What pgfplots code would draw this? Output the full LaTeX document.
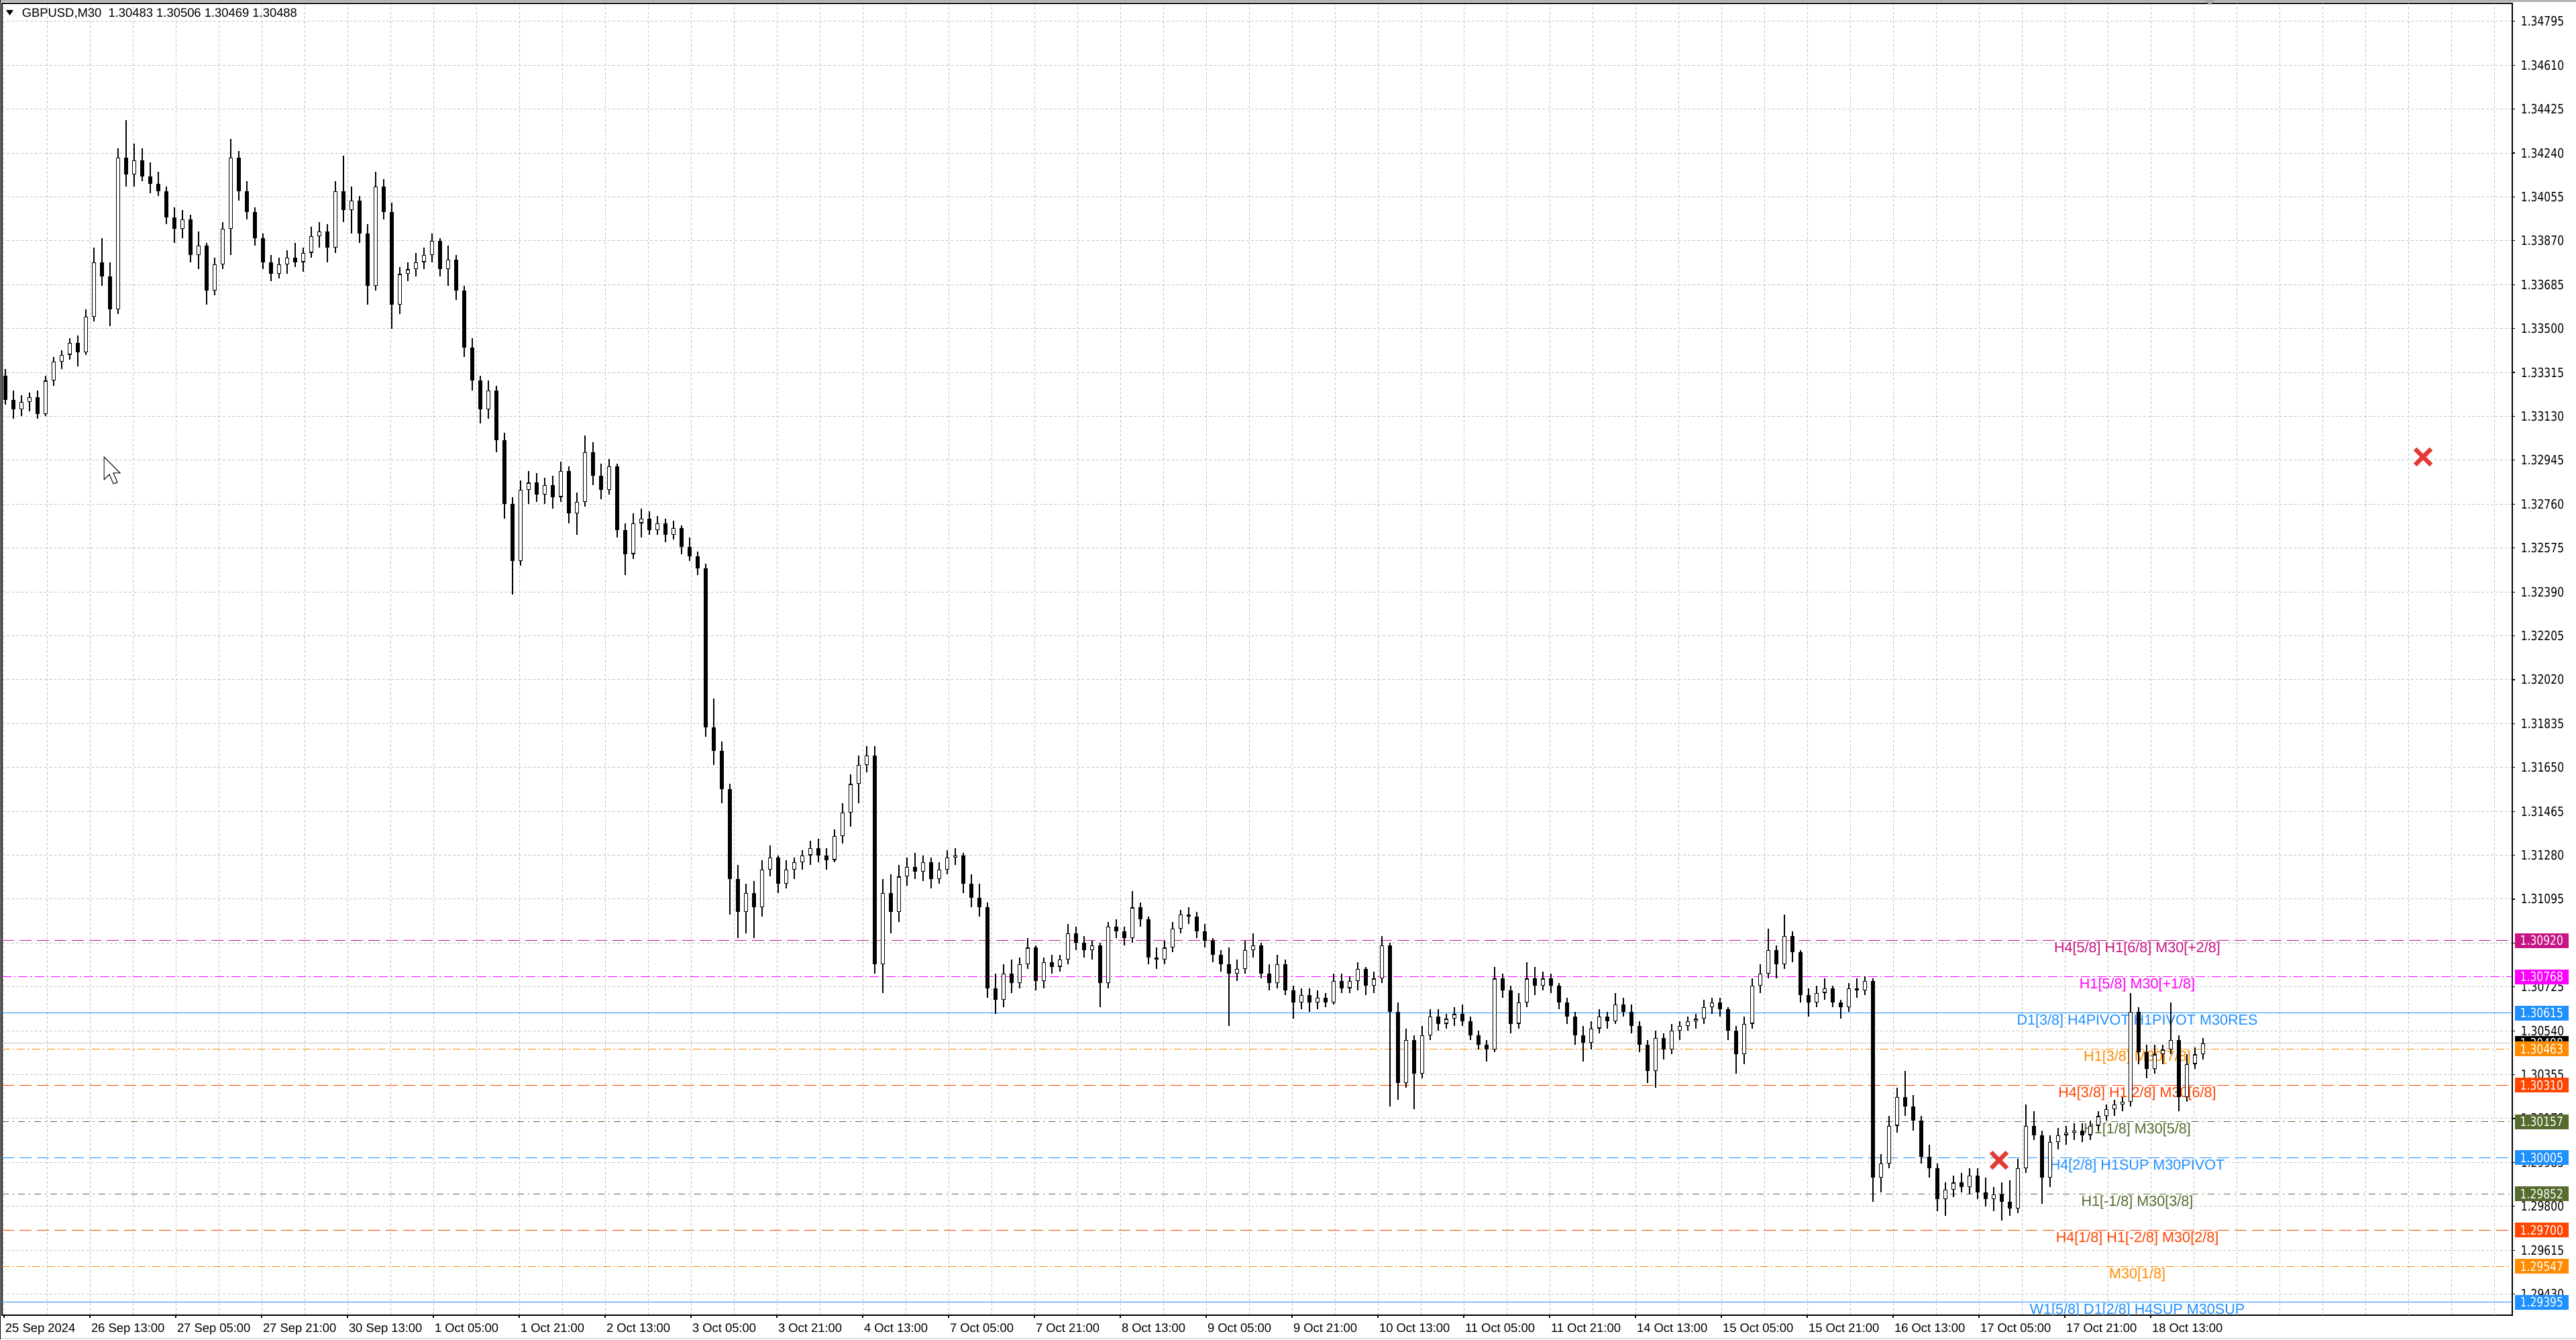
\documentclass[border=0pt]{standalone}
\usepackage{fontspec}
\setmainfont{Liberation Sans}
\newfontfamily\pricefont[FakeStretch=0.81]{DejaVu Sans}
\usepackage{pgfplots}
\usepackage{pgfplotstable}
\pgfplotsset{compat=1.18}

\definecolor{lvlviolet}{HTML}{C71585}
\definecolor{lvlmagenta}{HTML}{FF00FF}
\definecolor{lvlblue}{HTML}{1E90FF}
\definecolor{lvlorange}{HTML}{FF8C00}
\definecolor{lvlred}{HTML}{FF4500}
\definecolor{lvlolive}{HTML}{556B2F}
\definecolor{gridgray}{HTML}{C4C4C4}
\definecolor{xred}{HTML}{E53935}

% GBPUSD M30 candles (x = pixel column, o h l c)
\pgfplotstableread{
x o h l c
8 1.3330 1.3333 1.3318 1.3320
20 1.3320 1.3324 1.3312 1.3316
32 1.3316 1.3322 1.3313 1.3319
44 1.3319 1.3323 1.3315 1.3321
56 1.3321 1.3324 1.3312 1.3314
68 1.3314 1.3330 1.3313 1.3328
80 1.3328 1.3338 1.3326 1.3336
92 1.3336 1.3341 1.3333 1.3339
104 1.3339 1.3346 1.3337 1.3344
116 1.3344 1.3347 1.3334 1.3340
128 1.3340 1.3358 1.3339 1.3355
140 1.3355 1.3384 1.3353 1.3378
152 1.3378 1.3388 1.3368 1.3372
164 1.3372 1.3378 1.3351 1.3358
176 1.3358 1.3426 1.3356 1.3422
188 1.3422 1.3438 1.3410 1.3415
200 1.3415 1.3428 1.3410 1.3421
212 1.3421 1.3426 1.3412 1.3414
224 1.3414 1.3420 1.3407 1.3411
236 1.3411 1.3416 1.3406 1.3408
248 1.3408 1.3410 1.3394 1.3397
260 1.3397 1.3401 1.3386 1.3392
272 1.3392 1.3400 1.3388 1.3396
284 1.3396 1.3398 1.3378 1.3381
296 1.3381 1.3391 1.3375 1.3385
308 1.3385 1.3386 1.3360 1.3366
320 1.3366 1.3380 1.3364 1.3377
332 1.3377 1.3395 1.3375 1.3392
344 1.3392 1.3430 1.3381 1.3422
356 1.3422 1.3425 1.3404 1.3408
368 1.3408 1.3412 1.3396 1.3399
380 1.3399 1.3401 1.3385 1.3388
392 1.3388 1.3390 1.3375 1.3378
404 1.3378 1.3381 1.3370 1.3373
416 1.3373 1.3380 1.3371 1.3377
428 1.3377 1.3383 1.3373 1.3380
440 1.3380 1.3386 1.3376 1.3378
452 1.3378 1.3384 1.3374 1.3382
464 1.3382 1.3393 1.3380 1.3389
476 1.3389 1.3395 1.3384 1.3391
488 1.3391 1.3394 1.3378 1.3384
500 1.3384 1.3412 1.3382 1.3408
512 1.3408 1.3423 1.3395 1.3400
524 1.3400 1.3410 1.3390 1.3404
536 1.3404 1.3406 1.3386 1.3390
548 1.3390 1.3394 1.3360 1.3368
560 1.3368 1.3416 1.3366 1.3410
572 1.3410 1.3413 1.3396 1.3399
584 1.3399 1.3403 1.3350 1.3360
596 1.3360 1.3376 1.3356 1.3373
608 1.3373 1.3378 1.3370 1.3375
620 1.3375 1.3382 1.3372 1.3378
632 1.3378 1.3384 1.3375 1.3381
644 1.3381 1.3390 1.3378 1.3387
656 1.3387 1.3388 1.3372 1.3375
668 1.3375 1.3385 1.3368 1.3379
680 1.3379 1.3381 1.3362 1.3366
692 1.3366 1.3368 1.3338 1.3342
704 1.3342 1.3346 1.3324 1.3328
716 1.3328 1.3330 1.3310 1.3316
728 1.3316 1.3328 1.3312 1.3324
740 1.3324 1.3326 1.3298 1.3303
752 1.3303 1.3306 1.3270 1.3276
764 1.3276 1.3279 1.3238 1.3252
776 1.3252 1.3286 1.3250 1.3282
788 1.3282 1.3290 1.3276 1.3285
800 1.3285 1.3289 1.3277 1.3280
812 1.3280 1.3287 1.3276 1.3284
824 1.3284 1.3288 1.3274 1.3279
836 1.3279 1.3294 1.3277 1.3290
848 1.3290 1.3292 1.3268 1.3272
860 1.3272 1.3281 1.3263 1.3277
872 1.3277 1.3305 1.3275 1.3298
884 1.3298 1.3302 1.3284 1.3288
896 1.3288 1.3293 1.3278 1.3282
908 1.3282 1.3295 1.3280 1.3292
920 1.3292 1.3293 1.3262 1.3265
932 1.3265 1.3268 1.3246 1.3255
944 1.3255 1.3272 1.3253 1.3268
956 1.3268 1.3274 1.3262 1.3270
968 1.3270 1.3273 1.3263 1.3265
980 1.3265 1.3271 1.3263 1.3268
992 1.3268 1.3270 1.3260 1.3263
1004 1.3263 1.3269 1.3261 1.3266
1016 1.3266 1.3267 1.3255 1.3258
1028 1.3258 1.3262 1.3252 1.3254
1040 1.3254 1.3256 1.3246 1.3249
1052 1.3249 1.3251 1.3178 1.3182
1064 1.3182 1.3194 1.3166 1.3172
1076 1.3172 1.3176 1.3150 1.3156
1088 1.3156 1.3158 1.3103 1.3118
1100 1.3118 1.3124 1.3093 1.3104
1112 1.3104 1.3116 1.3095 1.3112
1124 1.3112 1.3117 1.3093 1.3106
1136 1.3106 1.3126 1.3102 1.3122
1148 1.3122 1.3132 1.3119 1.3127
1160 1.3127 1.3128 1.3112 1.3116
1172 1.3116 1.3126 1.3114 1.3122
1184 1.3122 1.3127 1.3118 1.3125
1196 1.3125 1.3130 1.3122 1.3128
1208 1.3128 1.3134 1.3124 1.3131
1220 1.3131 1.3135 1.3125 1.3128
1232 1.3128 1.3131 1.3122 1.3126
1244 1.3126 1.3139 1.3125 1.3136
1256 1.3136 1.3150 1.3133 1.3146
1268 1.3146 1.3162 1.3140 1.3158
1280 1.3158 1.3170 1.3150 1.3166
1292 1.3166 1.3174 1.3163 1.3170
1304 1.3170 1.3174 1.3078 1.3082
1316 1.3082 1.3118 1.3070 1.3112
1328 1.3112 1.3120 1.3095 1.3104
1340 1.3104 1.3124 1.3100 1.3119
1352 1.3119 1.3127 1.3115 1.3123
1364 1.3123 1.3129 1.3118 1.3121
1376 1.3121 1.3128 1.3117 1.3125
1388 1.3125 1.3127 1.3114 1.3118
1400 1.3118 1.3125 1.3116 1.3122
1412 1.3122 1.3130 1.3120 1.3127
1424 1.3127 1.3131 1.3124 1.3128
1436 1.3128 1.3129 1.3112 1.3116
1448 1.3116 1.3120 1.3106 1.3110
1460 1.3110 1.3116 1.3102 1.3106
1472 1.3106 1.3108 1.3068 1.3072
1484 1.3072 1.3078 1.3061 1.3067
1496 1.3067 1.3082 1.3064 1.3078
1508 1.3078 1.3084 1.3070 1.3074
1520 1.3074 1.3085 1.3072 1.3082
1532 1.3082 1.3093 1.3080 1.3089
1544 1.3089 1.3090 1.3071 1.3075
1556 1.3075 1.3085 1.3072 1.3083
1568 1.3083 1.3086 1.3078 1.3081
1580 1.3081 1.3086 1.3079 1.3084
1592 1.3084 1.3099 1.3082 1.3095
1604 1.3095 1.3098 1.3088 1.3091
1616 1.3091 1.3094 1.3085 1.3088
1628 1.3088 1.3092 1.3084 1.3090
1640 1.3090 1.3091 1.3064 1.3074
1652 1.3074 1.3100 1.3072 1.3098
1664 1.3098 1.3101 1.3093 1.3096
1676 1.3096 1.3098 1.3090 1.3093
1688 1.3093 1.3113 1.3091 1.3106
1700 1.3106 1.3108 1.3098 1.3101
1712 1.3101 1.3102 1.3082 1.3085
1724 1.3085 1.3089 1.3080 1.3084
1736 1.3084 1.3092 1.3082 1.3089
1748 1.3089 1.3100 1.3087 1.3097
1760 1.3097 1.3105 1.3095 1.3103
1772 1.3103 1.3106 1.3099 1.3102
1784 1.3102 1.3104 1.3093 1.3096
1796 1.3096 1.3099 1.3089 1.3092
1808 1.3092 1.3093 1.3083 1.3086
1820 1.3086 1.3088 1.3079 1.3082
1832 1.3082 1.3089 1.3056 1.3078
1844 1.3078 1.3084 1.3075 1.3080
1856 1.3080 1.3092 1.3078 1.3088
1868 1.3088 1.3095 1.3085 1.3090
1880 1.3090 1.3091 1.3076 1.3078
1892 1.3078 1.3082 1.3071 1.3074
1904 1.3074 1.3086 1.3072 1.3082
1916 1.3082 1.3084 1.3069 1.3071
1928 1.3071 1.3073 1.3059 1.3066
1940 1.3066 1.3072 1.3063 1.3069
1952 1.3069 1.3072 1.3062 1.3066
1964 1.3066 1.3071 1.3063 1.3068
1976 1.3068 1.3070 1.3064 1.3066
1988 1.3066 1.3078 1.3065 1.3075
2000 1.3075 1.3078 1.3070 1.3072
2012 1.3072 1.3077 1.3070 1.3075
2024 1.3075 1.3083 1.3071 1.3080
2036 1.3080 1.3081 1.3069 1.3073
2048 1.3073 1.3079 1.3070 1.3076
2060 1.3076 1.3094 1.3074 1.3090
2072 1.3090 1.3091 1.3022 1.3062
2084 1.3062 1.3066 1.3025 1.3032
2096 1.3032 1.3055 1.3030 1.3050
2108 1.3050 1.3052 1.3021 1.3036
2120 1.3036 1.3056 1.3034 1.3052
2132 1.3052 1.3063 1.3050 1.3060
2144 1.3060 1.3063 1.3054 1.3057
2156 1.3057 1.3061 1.3055 1.3059
2168 1.3059 1.3064 1.3056 1.3061
2180 1.3061 1.3065 1.3056 1.3058
2192 1.3058 1.3060 1.3050 1.3052
2204 1.3052 1.3054 1.3046 1.3048
2216 1.3048 1.3050 1.3041 1.3046
2228 1.3046 1.3081 1.3045 1.3076
2240 1.3076 1.3078 1.3068 1.3071
2252 1.3071 1.3073 1.3053 1.3057
2264 1.3057 1.3070 1.3055 1.3066
2276 1.3066 1.3083 1.3064 1.3076
2288 1.3076 1.3081 1.3069 1.3073
2300 1.3073 1.3079 1.3071 1.3076
2312 1.3076 1.3078 1.3070 1.3073
2324 1.3073 1.3074 1.3063 1.3066
2336 1.3066 1.3068 1.3057 1.3060
2348 1.3060 1.3062 1.3048 1.3052
2360 1.3052 1.3056 1.3041 1.3049
2372 1.3049 1.3058 1.3046 1.3055
2384 1.3055 1.3063 1.3053 1.3060
2396 1.3060 1.3062 1.3055 1.3058
2408 1.3058 1.3070 1.3057 1.3065
2420 1.3065 1.3068 1.3060 1.3062
2432 1.3062 1.3065 1.3053 1.3056
2444 1.3056 1.3058 1.3045 1.3048
2456 1.3048 1.3050 1.3032 1.3037
2468 1.3037 1.3054 1.3030 1.3051
2480 1.3051 1.3053 1.3042 1.3046
2492 1.3046 1.3057 1.3044 1.3054
2504 1.3054 1.3058 1.3050 1.3056
2516 1.3056 1.3060 1.3054 1.3058
2528 1.3058 1.3061 1.3055 1.3059
2540 1.3059 1.3067 1.3057 1.3064
2552 1.3064 1.3068 1.3061 1.3066
2564 1.3066 1.3068 1.3060 1.3063
2576 1.3063 1.3064 1.3050 1.3054
2588 1.3054 1.3056 1.3036 1.3044
2600 1.3044 1.3060 1.3040 1.3057
2612 1.3057 1.3076 1.3055 1.3073
2624 1.3073 1.3082 1.3070 1.3078
2636 1.3078 1.3097 1.3076 1.3088
2648 1.3088 1.3090 1.3076 1.3082
2660 1.3082 1.3103 1.3080 1.3094
2672 1.3094 1.3096 1.3083 1.3087
2684 1.3087 1.3088 1.3066 1.3069
2696 1.3069 1.3072 1.3060 1.3066
2708 1.3066 1.3073 1.3064 1.3070
2720 1.3070 1.3076 1.3067 1.3072
2732 1.3072 1.3073 1.3064 1.3066
2744 1.3066 1.3067 1.3059 1.3064
2756 1.3064 1.3074 1.3062 1.3072
2768 1.3072 1.3076 1.3068 1.3071
2780 1.3071 1.3077 1.3069 1.3075
2792 1.3075 1.3076 1.2982 1.2992
2804 1.2992 1.3002 1.2986 1.2998
2816 1.2998 1.3018 1.2996 1.3014
2828 1.3014 1.3030 1.3011 1.3026
2840 1.3026 1.3037 1.3018 1.3022
2852 1.3022 1.3027 1.3012 1.3016
2864 1.3016 1.3018 1.2998 1.3001
2876 1.3001 1.3006 1.2992 1.2996
2888 1.2996 1.2998 1.2978 1.2983
2900 1.2983 1.2990 1.2976 1.2987
2912 1.2987 1.2993 1.2984 1.2990
2924 1.2990 1.2994 1.2986 1.2988
2936 1.2988 1.2996 1.2985 1.2993
2948 1.2993 1.2996 1.2983 1.2986
2960 1.2986 1.2992 1.2980 1.2983
2972 1.2983 1.2988 1.2978 1.2985
2984 1.2985 1.2990 1.2974 1.2982
2996 1.2982 1.2991 1.2976 1.2979
3008 1.2979 1.3000 1.2977 1.2996
3020 1.2996 1.3023 1.2994 1.3014
3032 1.3014 1.3020 1.3008 1.3010
3044 1.3010 1.3012 1.2981 1.2992
3056 1.2992 1.3010 1.2988 1.3007
3068 1.3007 1.3013 1.3004 1.3010
3080 1.3010 1.3014 1.3006 1.3011
3092 1.3011 1.3015 1.3008 1.3012
3104 1.3012 1.3015 1.3007 1.3010
3116 1.3010 1.3016 1.3008 1.3014
3128 1.3014 1.3020 1.3012 1.3018
3140 1.3018 1.3023 1.3016 1.3021
3152 1.3021 1.3025 1.3018 1.3023
3164 1.3023 1.3026 1.3020 1.3024
3176 1.3024 1.3070 1.3022 1.3062
3188 1.3062 1.3064 1.3040 1.3045
3200 1.3045 1.3048 1.3034 1.3038
3212 1.3038 1.3048 1.3036 1.3044
3224 1.3044 1.3048 1.3040 1.3046
3236 1.3046 1.3066 1.3044 1.3050
3248 1.3050 1.3052 1.3020 1.3026
3260 1.3026 1.3044 1.3024 1.3040
3272 1.3040 1.3047 1.3038 1.3044
3284 1.3044 1.3051 1.3042 1.30488
}\candles

\tikzset{
  lvllabel/.style={anchor=north, inner sep=0pt, yshift=-0.4pt, font=\fontsize{5.4pt}{6pt}\selectfont},
  pbox/.style={anchor=west, minimum width=20pt, minimum height=5.5pt, inner sep=0pt, text=white, font=\pricefont\fontsize{4.8pt}{5pt}\selectfont},
}

\begin{document}
\begin{tikzpicture}
\fill[white] (0,0) rectangle (960pt,499pt);
\useasboundingbox (0,0) rectangle (960pt,499pt);
\begin{axis}[
  at={(0.75pt,9pt)}, anchor=south west,
  scale only axis, width=935.5pt, height=488.75pt,
  xmin=3, xmax=3745, ymin=1.29341, ymax=1.34871,
  axis line style={line width=0.4pt},
  xtick={6,134,...,3206},
  xticklabels={25 Sep 2024,26 Sep 13:00,27 Sep 05:00,27 Sep 21:00,30 Sep 13:00,1 Oct 05:00,1 Oct 21:00,2 Oct 13:00,3 Oct 05:00,3 Oct 21:00,4 Oct 13:00,7 Oct 05:00,7 Oct 21:00,8 Oct 13:00,9 Oct 05:00,9 Oct 21:00,10 Oct 13:00,11 Oct 05:00,11 Oct 21:00,14 Oct 13:00,15 Oct 05:00,15 Oct 21:00,16 Oct 13:00,17 Oct 05:00,17 Oct 21:00,18 Oct 13:00},
  minor xtick={70,198,...,3654},
  extra x ticks={3334,3462,3590,3718},
  extra x tick labels={},
  extra x tick style={grid=major, major tick length=0pt},
  ytick={1.34795,1.34610,1.34425,1.34240,1.34055,1.33870,1.33685,1.33500,1.33315,1.33130,1.32945,1.32760,1.32575,1.32390,1.32205,1.32020,1.31835,1.31650,1.31465,1.31280,1.31095,1.30910,1.30725,1.30540,1.30355,1.30170,1.29985,1.29800,1.29615,1.29430},
  yticklabels={1.34795,1.34610,1.34425,1.34240,1.34055,1.33870,1.33685,1.33500,1.33315,1.33130,1.32945,1.32760,1.32575,1.32390,1.32205,1.32020,1.31835,1.31650,1.31465,1.31280,1.31095,1.30910,1.30725,1.30540,1.30355,1.30170,1.29985,1.29800,1.29615,1.29430},
  xtick pos=bottom, ytick pos=right, yticklabel pos=right,
  tick align=outside, major tick length=1pt, minor tick length=0pt,
  tick style={black, line width=0.3pt},
  grid=both,
  major grid style={gridgray, line width=0.25pt, dash pattern=on 1pt off 0.75pt},
  minor grid style={gridgray, line width=0.25pt, dash pattern=on 1pt off 0.75pt},
  xticklabel style={anchor=north west, inner sep=0pt, yshift=-2pt, xshift=0.3pt, font=\fontsize{4.6pt}{5pt}\selectfont},
  yticklabel style={anchor=west, inner sep=0pt, xshift=2pt, font=\pricefont\fontsize{4.8pt}{5pt}\selectfont},
]
% Murrey-math style levels
\addplot[lvlviolet, line width=0.35pt, dash pattern=on 4.5pt off 2pt, forget plot] coordinates {(3,1.30920) (3745,1.30920)};
\addplot[lvlmagenta, line width=0.3pt, dash pattern=on 3.5pt off 1pt on 0.6pt off 1pt, forget plot] coordinates {(3,1.30768) (3745,1.30768)};
\addplot[lvlblue, line width=0.28pt, forget plot] coordinates {(3,1.30615) (3745,1.30615)};
\addplot[gray!50, line width=0.25pt, forget plot] coordinates {(3,1.30488) (3745,1.30488)};
\addplot[lvlorange, line width=0.25pt, dash pattern=on 3pt off 1pt on 0.6pt off 1pt, forget plot] coordinates {(3,1.30463) (3745,1.30463)};
\addplot[lvlred, line width=0.3pt, dash pattern=on 4.5pt off 2pt, forget plot] coordinates {(3,1.30310) (3745,1.30310)};
\addplot[lvlolive, line width=0.25pt, dash pattern=on 2.5pt off 1.5pt on 0.5pt off 1.5pt, forget plot] coordinates {(3,1.30157) (3745,1.30157)};
\addplot[lvlblue, line width=0.25pt, dash pattern=on 4.5pt off 2pt, forget plot] coordinates {(3,1.30005) (3745,1.30005)};
\addplot[lvlolive, line width=0.25pt, dash pattern=on 2.5pt off 1.5pt on 0.5pt off 1.5pt, forget plot] coordinates {(3,1.29852) (3745,1.29852)};
\addplot[lvlred, line width=0.3pt, dash pattern=on 4.5pt off 2pt, forget plot] coordinates {(3,1.29700) (3745,1.29700)};
\addplot[lvlorange, line width=0.25pt, dash pattern=on 3pt off 1pt on 0.6pt off 1pt, forget plot] coordinates {(3,1.29547) (3745,1.29547)};
\addplot[lvlblue, line width=0.28pt, forget plot] coordinates {(3,1.29395) (3745,1.29395)};

\node[lvllabel, text=lvlviolet] at (axis cs:3186,1.30920) {H4[5/8] H1[6/8] M30[+2/8]};
\node[lvllabel, text=lvlmagenta] at (axis cs:3186,1.30768) {H1[5/8] M30[+1/8]};
\node[lvllabel, text=lvlblue] at (axis cs:3186,1.30615) {D1[3/8] H4PIVOT H1PIVOT M30RES};
\node[lvllabel, text=lvlorange] at (axis cs:3186,1.30463) {H1[3/8] M30[7/8]};
\node[lvllabel, text=lvlred] at (axis cs:3186,1.30310) {H4[3/8] H1[2/8] M30[6/8]};
\node[lvllabel, text=lvlolive] at (axis cs:3186,1.30157) {H1[1/8] M30[5/8]};
\node[lvllabel, text=lvlblue] at (axis cs:3186,1.30005) {H4[2/8] H1SUP M30PIVOT};
\node[lvllabel, text=lvlolive] at (axis cs:3186,1.29852) {H1[-1/8] M30[3/8]};
\node[lvllabel, text=lvlred] at (axis cs:3186,1.29700) {H4[1/8] H1[-2/8] M30[2/8]};
\node[lvllabel, text=lvlorange] at (axis cs:3186,1.29547) {M30[1/8]};
\node[lvllabel, text=lvlblue] at (axis cs:3186,1.29395) {W1[5/8] D1[2/8] H4SUP M30SUP};

% candles: wicks, bodies, white inside of rising bodies
\addplot[draw=none, forget plot, error bars/.cd, y dir=plus, y explicit, error mark=none,
  error bar style={draw=black, line width=0.3pt}]
  table[x=x, y=l, y error expr={\thisrow{h}-\thisrow{l}}] {\candles};
\addplot[draw=none, forget plot, error bars/.cd, y dir=plus, y explicit, error mark=none,
  error bar style={draw=black, line width=1.5pt}]
  table[x=x, y expr={min(\thisrow{o},\thisrow{c})}, y error expr={abs(\thisrow{c}-\thisrow{o})}] {\candles};
\addplot[draw=none, forget plot, restrict expr to domain={\thisrow{c}-\thisrow{o}}{0.0001:1},
  error bars/.cd, y dir=plus, y explicit, error mark=none,
  error bar style={draw=white, line width=0.95pt, shorten <=0.3pt, shorten >=0.3pt}]
  table[x=x, y=o, y error expr={\thisrow{c}-\thisrow{o}}] {\candles};

\addplot[only marks, mark=x, mark size=4.2pt, xred, line width=1.6pt, forget plot] coordinates {(3612,1.32959) (2980,1.29994)};

\node[anchor=west, inner sep=0pt, font=\fontsize{4.6pt}{5pt}\selectfont] at (axis cs:32,1.34829) {GBPUSD,M30\ \ 1.30483 1.30506 1.30469 1.30488};
\coordinate (tri) at (axis cs:9,1.34843);
\coordinate (cur) at (axis cs:155,1.32959);

\coordinate (p1) at (axis cs:3745,1.30920);
\coordinate (p2) at (axis cs:3745,1.30768);
\coordinate (p3) at (axis cs:3745,1.30615);
\coordinate (p4) at (axis cs:3745,1.30488);
\coordinate (p5) at (axis cs:3745,1.30463);
\coordinate (p6) at (axis cs:3745,1.30310);
\coordinate (p7) at (axis cs:3745,1.30157);
\coordinate (p8) at (axis cs:3745,1.30005);
\coordinate (p9) at (axis cs:3745,1.29852);
\coordinate (p10) at (axis cs:3745,1.29700);
\coordinate (p11) at (axis cs:3745,1.29547);
\coordinate (p12) at (axis cs:3745,1.29395);
\end{axis}

\fill[black] (tri) -- ++(2.75pt,0) -- ++(-1.375pt,-2pt) -- cycle;
\draw[black, fill=white, line width=0.25pt, line join=miter] (cur) -- ++(0,-8.5pt) -- ++(2pt,2pt) -- ++(1.5pt,-3.5pt) -- ++(1.5pt,0.5pt) -- ++(-1.5pt,3.5pt) -- ++(2.5pt,0) -- cycle;

\node[pbox, fill=lvlviolet] at ([xshift=0.75pt]p1) {1.30920};
\node[pbox, fill=lvlmagenta] at ([xshift=0.75pt]p2) {1.30768};
\node[pbox, fill=lvlblue] at ([xshift=0.75pt]p3) {1.30615};
\node[pbox, fill=black] at ([xshift=0.75pt]p4) {1.30488};
\node[pbox, fill=lvlorange] at ([xshift=0.75pt]p5) {1.30463};
\node[pbox, fill=lvlred] at ([xshift=0.75pt]p6) {1.30310};
\node[pbox, fill=lvlolive] at ([xshift=0.75pt]p7) {1.30157};
\node[pbox, fill=lvlblue] at ([xshift=0.75pt]p8) {1.30005};
\node[pbox, fill=lvlolive] at ([xshift=0.75pt]p9) {1.29852};
\node[pbox, fill=lvlred] at ([xshift=0.75pt]p10) {1.29700};
\node[pbox, fill=lvlorange] at ([xshift=0.75pt]p11) {1.29547};
\node[pbox, fill=lvlblue] at ([xshift=0.75pt]p12) {1.29395};

% window frame bits
\fill[gray!60] (0,498.3pt) rectangle (960pt,499pt);
\fill[gray!25] (0,0) rectangle (960pt,0.6pt);
\draw[black, line width=0.25pt] (0.15pt,0) -- (0.15pt,499pt);
\fill[gray!70] (821.5pt,499pt) -- (825.5pt,499pt) -- (823.5pt,497pt) -- cycle;
\end{tikzpicture}
\end{document}
